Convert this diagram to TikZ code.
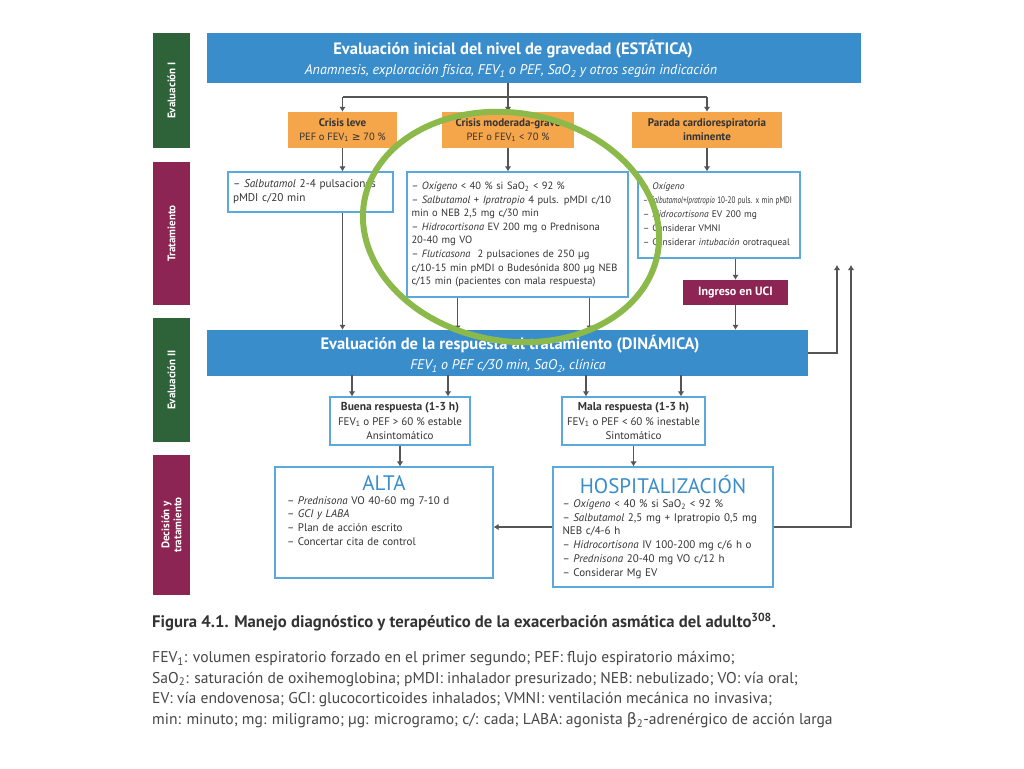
\documentclass[tikz,border=0pt]{standalone}
\usepackage{fontspec}
\usepackage{graphicx}
\setmainfont{PT Sans}
\newfontfamily\symfont{DejaVu Sans}
\usetikzlibrary{arrows.meta,positioning}
\definecolor{evgreen}{HTML}{2E6238}
\definecolor{trmaroon}{HTML}{8C2553}
\definecolor{headblue}{HTML}{3A8DCB}
\definecolor{boxblue}{HTML}{5AA8DC}
\definecolor{crisisorange}{HTML}{F5A54A}
\definecolor{arrowgray}{HTML}{555555}
\definecolor{textgray}{HTML}{333333}
\definecolor{markgreen}{HTML}{8CBA4A}
\newcommand{\fsz}[2]{\fontsize{#1}{#2}\selectfont}

\begin{document}
\begin{tikzpicture}[
x=1pt, y=-1pt,
sidebox/.style={fill=#1, text=white, rotate=90, minimum height=37pt, align=center, font=\bfseries\fsz{11}{12}, inner sep=1pt},
headbox/.style={fill=headblue, inner sep=0pt},
headtext/.style={text=white, align=center, inner sep=0pt, font=\fsz{14}{20.5}},
crisisbox/.style={fill=crisisorange, text=textgray, align=center, font=\fsz{10.5}{14}, minimum height=36pt, inner sep=1pt},
treatbox/.style={draw=boxblue, line width=1.2pt, fill=white, text=textgray, align=left, font=\fsz{10.5}{13.6}, inner xsep=5pt, inner ysep=3pt},
respbox/.style={draw=boxblue, line width=1.2pt, fill=white, text=textgray, align=center, font=\fsz{11}{14.5}, minimum height=48pt, inner sep=1pt},
outbox/.style={draw=boxblue, line width=1.2pt, fill=white, text=textgray, align=left, font=\fsz{11}{13.7}, inner ysep=3pt},
ucibox/.style={fill=trmaroon, text=white, font=\bfseries\fsz{12}{13}, minimum width=105pt, minimum height=25pt, inner sep=0pt},
line/.style={draw=arrowgray, line width=1.8pt},
arrow/.style={-{Latex[length=5pt,width=6.5pt]}, draw=arrowgray, line width=1.8pt}
]
\fill[white] (0,0) rectangle (1024,768);
\useasboundingbox (0,0) rectangle (1024,768);

\node[sidebox=evgreen, minimum width=115pt] (s1) at (171.5,90.5) {Evaluación I};
\node[sidebox=trmaroon, minimum width=143pt] (s2) at (171.5,233.5) {Tratamiento};
\node[sidebox=evgreen, minimum width=124pt] (s3) at (171.5,380) {Evaluación II};
\node[sidebox=trmaroon, minimum width=140pt] (s4) at (171.5,525) {Decisión y\\tratamiento};

\node[headbox, minimum width=654pt, minimum height=50pt] (head1) at (534,58) {};
\node[headtext] (head1t) at (511,59)
  {{\bfseries\fsz{16.5}{20.5} Evaluación inicial del nivel de gravedad (ESTÁTICA)}\\
   {\itshape Anamnesis, exploración física, FEV\textsubscript{1} o PEF, SaO\textsubscript{2} y otros según indicación}};

\node[crisisbox, minimum width=109pt] (leve) at (342.5,130) {{\bfseries\fsz{11}{14}Crisis leve}\\PEF o FEV\textsubscript{1} {\symfont ≥} 70 \%};
\node[crisisbox, minimum width=132pt] (mod) at (508,130) {{\bfseries\fsz{11}{14}Crisis moderada-grave}\\PEF o FEV\textsubscript{1} < 70 \%};
\node[crisisbox, minimum width=150pt] (parada) at (707,130) {{\bfseries\fsz{11}{14}Parada cardiorespiratoria}\\{\bfseries\fsz{11}{14}inminente}};

\node[treatbox, text width=155pt, minimum height=40pt, font=\fsz{11.2}{14}] (tleve) at (310.5,192)
  {– \textit{Salbutamol} 2-4 pulsaciones\\pMDI c/20 min};
\node[treatbox, text width=212pt, inner xsep=4.5pt, minimum height=125pt] (tmod) at (517.5,234.5)
  {– \textit{Oxígeno} < 40 \% si SaO\textsubscript{2} < 92 \%\\
   – \textit{Salbutamol} + \textit{Ipratropio} 4 puls. pMDI c/10\\
   min o NEB 2,5 mg c/30 min\\
   – \textit{Hidrocortisona} EV 200 mg o Prednisona\\
   20-40 mg VO\\
   – \textit{Fluticasona}\ \ 2 pulsaciones de 250 µg\\
   c/10-15 min pMDI o Budesónida 800 µg NEB\\
   c/15 min (pacientes con mala respuesta)};
\node[treatbox, text width=152pt, minimum height=86pt, font=\fsz{9.5}{13.8}] (tpar) at (719,215)
  {– \textit{Oxígeno}\\
   \scalebox{0.75}[1]{– \textit{Salbutamol+Ipratropio} 10-20 puls. x min pMDI}\\
   – \textit{Hidrocortisona} EV 200 mg\\
   – Considerar VMNI\\
   – Considerar \textit{intubación} orotraqueal};
\node[ucibox] (uci) at (735.5,292.5) {Ingreso en UCI};

\node[headbox, minimum width=601pt, minimum height=46pt] (head2) at (507.5,353) {};
\node[headtext] (head2t) at (508,353.5)
  {{\bfseries\fsz{16.5}{19.5} Evaluación de la respuesta al tratamiento (DINÁMICA)}\\
   {\itshape FEV\textsubscript{1} o PEF c/30 min, SaO\textsubscript{2}, clínica}};

\node[respbox, minimum width=140pt] (buena) at (400,421)
  {{\bfseries\fsz{11.5}{14.5}Buena respuesta (1-3 h)}\\FEV\textsubscript{1} o PEF > 60 \% estable\\Ansintomático};
\node[respbox, minimum width=143pt] (mala) at (633.5,421)
  {{\bfseries\fsz{11.5}{14.5}Mala respuesta (1-3 h)}\\FEV\textsubscript{1} o PEF < 60 \% inestable\\Sintomático};

\node[outbox, text width=194pt, inner xsep=12pt, minimum height=111pt] (alta) at (384,522.5)
  {{\centering\color{headblue}\fsz{21}{25}ALTA\par}
   – \textit{Prednisona} VO 40-60 mg 7-10 d\\
   – \textit{GCI y LABA}\\
   – Plan de acción escrito\\
   – Concertar cita de control\par\vspace*{24pt}};
\node[outbox, text width=201pt, inner xsep=9.5pt, minimum height=120pt] (hosp) at (663,527)
  {{\centering\color{headblue}\fsz{21}{25}HOSPITALIZACIÓN\par}
   – \textit{Oxígeno} < 40 \% si SaO\textsubscript{2} < 92 \%\\
   – \textit{Salbutamol} 2,5 mg + Ipratropio 0,5 mg\\
   NEB c/4-6 h\\
   – \textit{Hidrocortisona} IV 100-200 mg c/6 h o\\
   – \textit{Prednisona} 20-40 mg VO c/12 h\\
   – Considerar Mg EV};

\coordinate (br) at (508,97);
\coordinate (up1) at (837,265);
\coordinate (up2) at (851,265);
\draw[line] (head1.south -| br) -- (br);
\draw[line] (br -| leve) -- (br -| parada);
\draw[arrow] (br -| leve) -- (leve);
\draw[arrow] (br) -- (mod);
\draw[arrow] (br -| parada) -- (parada);
\draw[arrow] (leve) -- (leve |- tleve.north);
\draw[arrow] (mod) -- (mod |- tmod.north);
\draw[arrow] (parada) -- (parada |- tpar.north);
\draw[arrow] (tpar.south -| uci) -- (uci);
\draw[arrow] (tleve.south -| leve) -- (leve |- head2.north);
\draw[arrow] ([xshift=-60pt]tmod.south) -- ([xshift=-60pt,yshift=-33pt]tmod.south);
\draw[arrow] ([xshift=72pt]tmod.south) -- ([xshift=72pt,yshift=-33pt]tmod.south);
\draw[arrow] (uci) -- (uci |- head2.north);
\draw[arrow] (head2.east) -| (up1);
\draw[arrow] (hosp.east) -| (up2);
\draw[arrow] ([xshift=-48pt,yshift=21pt]buena.north) -- ([xshift=-48pt]buena.north);
\draw[arrow] ([xshift=48pt,yshift=21pt]buena.north) -- ([xshift=48pt]buena.north);
\draw[arrow] ([xshift=-47.5pt,yshift=21pt]mala.north) -- ([xshift=-47.5pt]mala.north);
\draw[arrow] ([xshift=47.5pt,yshift=21pt]mala.north) -- ([xshift=47.5pt]mala.north);
\draw[arrow] (buena) -- (buena |- alta.north);
\draw[arrow] (mala) -- (mala |- hosp.north);
\draw[arrow] (hosp.west) -- (hosp.west -| alta.east);

\draw[markgreen, line width=6pt, rotate around={-10:(511,227)}] (511,227) ellipse (149pt and 114pt);

\node[anchor=west, font=\bfseries\fsz{16.7}{19}, text=textgray, inner sep=0pt] (cap) at (152,622)
  {Figura 4.1. Manejo diagnóstico y terapéutico de la exacerbación asmática del adulto\textsuperscript{308}.};
\node[anchor=north west, align=left, font=\fsz{15.6}{20.6}, text=textgray!90, inner sep=0pt] (legend) at (152,651)
  {FEV\textsubscript{1}: volumen espiratorio forzado en el primer segundo; PEF: flujo espiratorio máximo;\\
   SaO\textsubscript{2}: saturación de oxihemoglobina; pMDI: inhalador presurizado; NEB: nebulizado; VO: vía oral;\\
   EV: vía endovenosa; GCI: glucocorticoides inhalados; VMNI: ventilación mecánica no invasiva;\\
   min: minuto; mg: miligramo; µg: microgramo; c/: cada; LABA: agonista {\symfont β}\textsubscript{2}-adrenérgico de acción larga};
\end{tikzpicture}
\end{document}
